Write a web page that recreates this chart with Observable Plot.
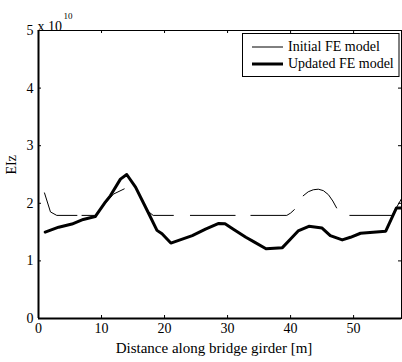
<!DOCTYPE html>
<html><head><meta charset="utf-8">
<script src="https://cdn.jsdelivr.net/npm/d3@7"></script>
<script src="https://cdn.jsdelivr.net/npm/@observablehq/plot@0.6"></script>
<style>body{margin:0;background:#fff}</style>
</head><body><div id="chart"></div>
<script>
// Initial FE model (null = gap in the curve)
const initX = [0.95, 1.9, 2.9, 6.1, null, 6.9, 9.0, 10.6, 11.9, 13.6, null, 17.5, 18.2, 21.4, null, 24.1, 31.2, null, 33.7, 39.4, 40.0, 40.6, null,
  42.0, 42.8, 43.6, 44.4, 45.2, 46.0, 46.7, 47.3, null, 49.4, 56.1, 57.6];
const initY = [2.18, 1.85, 1.79, 1.79, null, 1.79, 1.79, 2.0, 2.16, 2.25, null, 1.85, 1.79, 1.79, null, 1.79, 1.79, null, 1.79, 1.79, 1.83, 1.89, null,
  2.13, 2.2, 2.235, 2.245, 2.22, 2.15, 2.04, 1.92, null, 1.79, 1.79, 2.08];
// Updated FE model
const updX = [1.06, 3.2, 5.3, 7.1, 9.0, 10.6, 11.4, 13.0, 14.0, 15.4, 17.25, 18.8, 19.6, 21.0, 24.4, 26.5, 28.6, 29.6, 30.8, 32.9, 34.2, 36.1, 38.7, 40.0, 41.2, 42.9, 45.0, 46.3, 48.2, 49.5, 51.1, 55.1, 56.8, 57.6];
const updY = [1.50, 1.585, 1.64, 1.72, 1.77, 2.02, 2.13, 2.42, 2.50, 2.28, 1.875, 1.53, 1.47, 1.31, 1.44, 1.55, 1.65, 1.645, 1.56, 1.41, 1.33, 1.21, 1.23, 1.38, 1.52, 1.60, 1.57, 1.44, 1.365, 1.41, 1.48, 1.515, 1.92, 1.92];
const xTicks = [0, 10, 20, 30, 40, 50];
const yTicks = [0, 1, 2, 3, 4, 5];
const seriesNames = ["Initial FE model", "Updated FE model"];
const xLabel = "Distance along bridge girder [m]";
const yLabel = "EIz";

const W = 402, H = 362, mL = 38, mR = 1, mT = 30, mB = 44;
const xDom = [0, 57.6], yDom = [0, 5];
const tY = 3 * (yDom[1] - yDom[0]) / (H - mT - mB);
const tX = 3 * (xDom[1] - xDom[0]) / (W - mL - mR);
const font = "'Liberation Serif', 'Times New Roman', Times, 'DejaVu Serif', serif";
const T = {fontFamily: font, fontSize: 14, fill: "#000"};

const initData = initX.map((x, i) => ({x, y: initY[i]}));
const updData = updX.map((x, i) => ({x, y: updY[i]}));

const plot = Plot.plot({
  width: W, height: H,
  marginLeft: mL, marginRight: mR, marginTop: mT, marginBottom: mB,
  x: {domain: xDom},
  y: {domain: yDom},
  style: `font-family: ${font}; font-size: 14px; background: #fff; color: #000; overflow: visible;`,
  marks: [
    Plot.line(initData, {x: "x", y: "y", stroke: "#000", strokeWidth: 1}),
    Plot.line(updData, {x: "x", y: "y", stroke: "#000", strokeWidth: 3, strokeLinejoin: "round"}),
    Plot.frame({stroke: "#000", strokeWidth: 1}),
    Plot.ruleX([0], {stroke: "#000", strokeWidth: 2}),
    Plot.ruleY([0], {stroke: "#000", strokeWidth: 2}),
    Plot.ruleX(xTicks, {x: d => d, y1: 0, y2: tY, stroke: "#000"}),
    Plot.ruleX(xTicks, {x: d => d, y1: yDom[1] - tY, y2: yDom[1], stroke: "#000"}),
    Plot.ruleY(yTicks, {y: d => d, x1: 0, x2: tX, stroke: "#000"}),
    Plot.ruleY(yTicks, {y: d => d, x1: xDom[1] - tX, x2: xDom[1], stroke: "#000"}),
    Plot.axisX({ticks: xTicks, tickSize: 0, tickPadding: 5, label: null, tickFormat: d => String(d), ...T}),
    Plot.axisY({ticks: yTicks, tickSize: 0, tickPadding: 5, label: null, tickFormat: d => String(d), ...T}),
    Plot.text([xLabel], {frameAnchor: "bottom", dy: 34, dx: -6, ...T, fontSize: 15}),
    Plot.text([yLabel], {frameAnchor: "left", dx: -27, rotate: -90, ...T}),
    Plot.text(["x 10"], {frameAnchor: "top-left", textAnchor: "start", dx: -1, dy: -9, ...T}),
    Plot.text(["10"], {frameAnchor: "top-left", textAnchor: "start", dx: 25, dy: -18, ...T, fontSize: 9})
  ]
});

// legend
const svg = d3.select(plot);
const lg = svg.append("g");
lg.append("rect").attr("x", 242.5).attr("y", 33.5).attr("width", 156.5).attr("height", 43)
  .attr("fill", "#fff").attr("stroke", "#000").attr("stroke-width", 1);
const rows = [{y: 47, w: 1}, {y: 64, w: 3}];
rows.forEach((r, i) => {
  lg.append("line").attr("x1", 252).attr("x2", 283).attr("y1", r.y).attr("y2", r.y)
    .attr("stroke", "#000").attr("stroke-width", r.w);
  lg.append("text").attr("x", 288).attr("y", r.y).attr("dy", "0.32em")
    .attr("text-anchor", "start")
    .attr("font-family", font).attr("font-size", 14).attr("fill", "#000")
    .text(seriesNames[i]);
});

document.getElementById("chart").appendChild(plot);
</script>
</body></html>
